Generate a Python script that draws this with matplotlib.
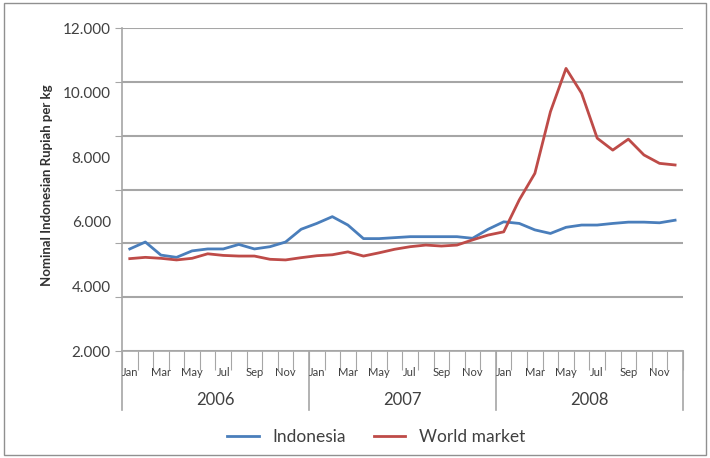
import numpy as np
import matplotlib
matplotlib.use("Agg")
import matplotlib.pyplot as plt
from matplotlib.patches import Rectangle

plt.rcParams['font.family'] = ['Lato', 'DejaVu Sans']

years = ['2006', '2007', '2008']
months = ['Jan', 'Feb', 'Mar', 'Apr', 'May', 'Jun', 'Jul', 'Aug', 'Sep', 'Oct', 'Nov', 'Dec']

# Nominal Rupiah per kg, Jan 2006 - Dec 2008
indonesia = [5160, 5375, 4970, 4900, 5100, 5160, 5160, 5300, 5160, 5230, 5375, 5770,
             5950, 6160, 5900, 5480, 5480, 5510, 5540, 5540, 5540, 5540, 5490, 5770,
             6000, 5950, 5750, 5640, 5830, 5900, 5900, 5950, 5990, 5990, 5970, 6050]
world = [4860, 4900, 4870, 4820, 4870, 5010, 4960, 4940, 4940, 4840, 4820, 4890,
         4950, 4980, 5070, 4940, 5040, 5150, 5230, 5280, 5250, 5280, 5440, 5590,
         5690, 6680, 7500, 9410, 10750, 9980, 8590, 8220, 8560, 8070, 7810, 7760]

y_labels = [2000, 4000, 6000, 8000, 10000, 12000]
grid_levels = np.linspace(2000, 12000, 7)

fig = plt.figure(figsize=(7.1, 4.58), dpi=100)
ax = fig.add_axes([0.1718, 0.2336, 0.790, 0.7052])

x = np.arange(len(indonesia)) + 0.5
ax.plot(x, indonesia, color='#4a7ebb', lw=2.0, label='Indonesia')
ax.plot(x, world, color='#be4b48', lw=2.0, label='World market')

ax.set_xlim(0, 36)
ax.set_ylim(2000, 12000)

# gridlines and labels (labels are not on the gridlines in the original)
ax.yaxis.remove_overlapping_locs = False
ax.set_yticks(grid_levels)
ax.set_yticklabels([])
ax.yaxis.grid(True, color='#a6a6a6', lw=1.5)
ax.set_axisbelow(True)
ax.set_yticks(y_labels, minor=True)
ax.set_yticklabels([f'{v:,}'.replace(',', '.') for v in y_labels], minor=True,
                   fontsize=11, color='#404040')
ax.tick_params(axis='y', which='minor', length=0, pad=8)
ax.tick_params(axis='y', which='major', length=5, color='#a6a6a6')

ax.set_xticks(np.arange(0, 37))
ax.set_xticklabels([])
ax.tick_params(axis='x', which='major', length=14, color='#a6a6a6', direction='out')
for i in range(36):
    if i % 2 == 0:
        ax.text(i + 0.5, -0.068, months[i % 12], transform=ax.get_xaxis_transform(),
                ha='center', va='center', fontsize=8, color='#404040')
for k, yr in enumerate(years):
    ax.text(12 * k + 6, -0.152, yr, transform=ax.get_xaxis_transform(),
            ha='center', va='center', fontsize=12, color='#404040')
for k in range(4):
    ax.plot([12 * k, 12 * k], [0, -0.183], transform=ax.get_xaxis_transform(),
            color='#a6a6a6', lw=1.2, clip_on=False)

for s in ['top', 'right']:
    ax.spines[s].set_visible(False)
ax.spines['left'].set_color('#a6a6a6')
ax.spines['bottom'].set_color('#a6a6a6')
ax.spines['left'].set_linewidth(1.2)
ax.spines['bottom'].set_linewidth(1.2)

fig.text(0.066, 0.595, 'Nominal Indonesian Rupiah per kg', rotation=90,
         ha='center', va='center', fontsize=9.5, fontweight='bold', color='#303030')

fig.legend(loc='center', bbox_to_anchor=(0.53, 0.046), ncol=2, frameon=False,
           fontsize=12.5, handlelength=1.8, columnspacing=1.6, labelcolor='#404040')

fig.patches.append(Rectangle((0.006, 0.006), 0.988, 0.988, transform=fig.transFigure,
                             fill=False, edgecolor='#909090', lw=1.0))

fig.savefig('out.png', dpi=100)
